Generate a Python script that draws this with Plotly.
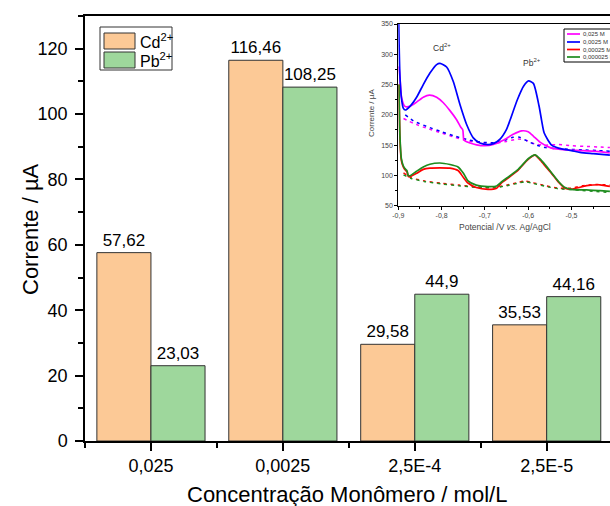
import plotly.graph_objects as go

# ---------------- data ----------------
categories = ["0,025", "0,0025", "2,5E-4", "2,5E-5"]
cd_values = [57.62, 116.46, 29.58, 35.53]
pb_values = [23.03, 108.25, 44.9, 44.16]
series_names = ["Cd<sup>2+</sup>", "Pb<sup>2+</sup>"]
y_ticks = [0, 20, 40, 60, 80, 100, 120]

inset_names = ["0,025 M", "0,0025 M", "0,00025 M", "0,000025 M"]
inset_x_ticks = [-0.9, -0.8, -0.7, -0.6, -0.5]
inset_x_ticklabels = ["-0,9", "-0,8", "-0,7", "-0,6", "-0,5"]
inset_y_ticks = [50, 100, 150, 200, 250, 300, 350]

# solid voltammograms
mag_x = [-0.8985, -0.8962, -0.8923, -0.8846, -0.8731, -0.8577, -0.8423, -0.8280, -0.8115, -0.7960,
         -0.7807, -0.7653, -0.7560, -0.7510, -0.7490, -0.7460, -0.7345, -0.7191, -0.7000, -0.6806,
         -0.6575, -0.6344, -0.6150, -0.6000, -0.5882, -0.5728, -0.5460, -0.5112, -0.4804, -0.4497, -0.4112]
mag_y = [280, 262, 228, 214, 214, 221, 229, 232.5, 229, 220,
         207, 192, 180, 175, 160, 157, 153.5, 150.5, 149, 151,
         158, 168, 173.6, 172, 165, 155, 145, 142, 141, 140, 137]

blu_x = [-0.8990, -0.8962, -0.8923, -0.8885, -0.8840, -0.8731, -0.8577, -0.8423, -0.8269, -0.8115,
         -0.8037, -0.7884, -0.7730, -0.7576, -0.7422, -0.7268, -0.7114, -0.6930, -0.6806, -0.6650,
         -0.6500, -0.6420, -0.6250, -0.6100, -0.5990, -0.5880, -0.5750, -0.5690, -0.5630, -0.5460,
         -0.5300, -0.5000, -0.4804, -0.4497, -0.4112]
blu_y = [350, 263, 225, 211, 208, 214, 229, 250, 269, 283,
         285, 279, 255, 217, 184, 162, 153.5, 151, 152.5, 160,
         176, 191, 225, 248, 256, 252, 215, 191, 170, 150,
         145, 141, 138, 136, 133.6]

red_x = [-0.8985, -0.8962, -0.8930, -0.8885, -0.8830, -0.8800, -0.8770, -0.8730, -0.8577, -0.8423,
         -0.8270, -0.8038, -0.7807, -0.7620, -0.7500, -0.7390, -0.7200, -0.6930, -0.6729, -0.6610,
         -0.6420, -0.6230, -0.6000, -0.5843, -0.5720, -0.5600, -0.5457, -0.5300, -0.5150, -0.4995,
         -0.4650, -0.4342, -0.4112]
red_y = [250, 160, 125, 114, 108, 106, 98.5, 98, 103.5, 110,
         112, 112.5, 112, 108, 97, 87.5, 80, 77, 79, 88,
         98, 108.8, 126.5, 133.5, 125, 115, 103, 89, 79, 77.5,
         83, 84.5, 82]

grn_x = red_x
grn_y = [250, 165, 128, 116, 110, 108, 100, 99.5, 107, 114,
         118.5, 120.5, 118, 114, 104, 91, 84, 81.5, 82.5, 89.6,
         99.5, 110, 127.5, 134, 127, 117, 104, 90, 80, 77,
         76, 75, 73.5]

# dotted baselines
blud_x = [-0.8840, -0.8650, -0.8350, -0.8000, -0.7700, -0.7400, -0.7100, -0.6800, -0.6550, -0.6350,
          -0.6200, -0.6000, -0.5800, -0.5600, -0.5300, -0.5000, -0.4700, -0.4400, -0.4112]
blud_y = [200, 190, 181, 172, 165, 159, 155, 154, 158, 163,
          163, 156, 150, 146, 144, 143, 142, 141, 140]

magd_x = [-0.8880, -0.8650, -0.8350, -0.8000, -0.7700, -0.7400, -0.7100, -0.6800, -0.6500, -0.6250,
          -0.6050, -0.5850, -0.5600, -0.5300, -0.5000, -0.4700, -0.4400, -0.4112]
magd_y = [194, 186, 178, 170, 163, 157, 154, 153, 156, 160,
          158, 152, 150, 151, 149, 148, 147, 146]

redd_x = [-0.8880, -0.8700, -0.8400, -0.8000, -0.7600, -0.7200, -0.6800, -0.6500, -0.6250, -0.6074,
          -0.5900, -0.5600, -0.5300, -0.5000, -0.4750, -0.4450, -0.4112]
redd_y = [104, 96, 91, 87, 84, 81, 80, 84, 88, 90.8,
          88, 83, 79, 79, 83, 85, 84]
grnd_x = redd_x
grnd_y = [101, 95, 90, 86, 83, 80.5, 79.5, 83, 87, 89.5,
          87, 82, 78, 76.5, 75, 73.5, 72]

# ---------------- geometry helpers ----------------
W, H = 610, 506
L, R, T, B = 85, 0, 16, 65
PW, PH = W - L - R, H - T - B


def px(x):
    return (x - L) / PW


def py(y):
    return (H - B - y) / PH


FONT = "Liberation Sans, Arial, sans-serif"
ORANGE = "#FCC996"
GREEN = "#9ED79C"
EDGE = "#333333"
INSET_COLORS = ["#FF00FF", "#0000FF", "#FF0000", "#1E8C1E"]


def fmt(v):
    return f"{v:g}".replace(".", ",")


xpos = list(range(len(categories)))

fig = go.Figure()
for name, vals, col in [(series_names[0], cd_values, ORANGE), (series_names[1], pb_values, GREEN)]:
    fig.add_trace(go.Bar(
        x=xpos, y=vals, name=name,
        marker=dict(color=col, line=dict(color=EDGE, width=1)),
        text=[fmt(v) for v in vals], textposition="outside",
        textfont=dict(size=17, color="black", family=FONT),
        constraintext="none", cliponaxis=False, showlegend=False,
    ))

solid = [(mag_x, mag_y), (blu_x, blu_y), (red_x, red_y), (grn_x, grn_y)]
dotted = [(magd_x, magd_y), (blud_x, blud_y), (redd_x, redd_y), (grnd_x, grnd_y)]
for i, (xs, ys) in enumerate(dotted):
    fig.add_trace(go.Scatter(x=xs, y=ys, mode="lines", xaxis="x2", yaxis="y2",
                             line=dict(color=INSET_COLORS[i], width=1.5, dash="3px,4px", shape="spline", smoothing=0.6),
                             showlegend=False, hoverinfo="skip"))
for i, (xs, ys) in enumerate(solid):
    fig.add_trace(go.Scatter(x=xs, y=ys, mode="lines", xaxis="x2", yaxis="y2", name=inset_names[i],
                             line=dict(color=INSET_COLORS[i], width=1.7, shape="spline", smoothing=0.6),
                             showlegend=False))

shapes = []
annotations = []

# main legend (drawn)
shapes.append(dict(type="rect", xref="paper", yref="paper", x0=px(100), x1=px(172), y0=py(27), y1=py(70),
                   line=dict(color=EDGE, width=1), fillcolor="white", layer="above"))
for k, (col, ytop) in enumerate([(ORANGE, 33), (GREEN, 52)]):
    shapes.append(dict(type="rect", xref="paper", yref="paper", x0=px(104), x1=px(135), y0=py(ytop), y1=py(ytop + 16),
                       line=dict(color=EDGE, width=1), fillcolor=col, layer="above"))
    annotations.append(dict(x=px(138), y=py(ytop + 8), xref="paper", yref="paper", text=series_names[k],
                            showarrow=False, xanchor="left", yanchor="middle",
                            font=dict(size=16, color="black", family=FONT)))

# inset legend (drawn)
shapes.append(dict(type="rect", xref="paper", yref="paper", x0=px(564), x1=px(616), y0=py(29), y1=py(62),
                   line=dict(color="black", width=1), fillcolor="white", layer="above"))
for k, yy in enumerate([34, 42, 49.5, 57]):
    shapes.append(dict(type="line", xref="paper", yref="paper", x0=px(567), x1=px(580), y0=py(yy), y1=py(yy),
                       line=dict(color=INSET_COLORS[k], width=1.7), layer="above"))
    annotations.append(dict(x=px(581), y=py(yy), xref="paper", yref="paper", text=inset_names[k],
                            showarrow=False, xanchor="left", yanchor="middle",
                            font=dict(size=6, color="#333", family=FONT)))

# titles
annotations.append(dict(x=px(347), y=py(494), xref="paper", yref="paper",
                        text="Concentração Monômero / mol/L", showarrow=False,
                        xanchor="center", yanchor="middle", font=dict(size=22, color="black", family=FONT)))
annotations.append(dict(x=px(30), y=py(229), xref="paper", yref="paper", text="Corrente / µA",
                        showarrow=False, textangle=-90, xanchor="center", yanchor="middle",
                        font=dict(size=22, color="black", family=FONT)))
annotations.append(dict(x=px(505), y=py(227), xref="paper", yref="paper",
                        text="Potencial /V <i>vs.</i> Ag/AgCl", showarrow=False,
                        xanchor="center", yanchor="middle", font=dict(size=8.5, color="#444", family=FONT)))
annotations.append(dict(x=px(371), y=py(113), xref="paper", yref="paper", text="Corrente / µA",
                        showarrow=False, textangle=-90, xanchor="center", yanchor="middle",
                        font=dict(size=8, color="#444", family=FONT)))
annotations.append(dict(x=px(442), y=py(47), xref="paper", yref="paper", text="Cd<sup>2+</sup>",
                        showarrow=False, xanchor="center", yanchor="middle",
                        font=dict(size=8.5, color="#333", family=FONT)))
annotations.append(dict(x=px(532), y=py(62), xref="paper", yref="paper", text="Pb<sup>2+</sup>",
                        showarrow=False, xanchor="center", yanchor="middle",
                        font=dict(size=8.5, color="#333", family=FONT)))

fig.update_layout(
    width=W, height=H,
    margin=dict(l=L, r=R, t=T, b=B, pad=0),
    paper_bgcolor="white", plot_bgcolor="white",
    font=dict(family=FONT, color="black"),
    barmode="group", bargap=0.18, bargroupgap=0,
    showlegend=False,
    shapes=shapes, annotations=annotations,
    xaxis=dict(range=[-0.5, 3.48], tickmode="array", tickvals=xpos, ticktext=categories,
               showline=True, linecolor="black", linewidth=1.5, mirror=True,
               ticks="outside", ticklen=8, tickwidth=1.5, tickcolor="black",
               tickfont=dict(size=18, color="black"), showgrid=False, zeroline=False,
               minor=dict(tickmode="linear", tick0=-0.5, dtick=1, ticks="outside", ticklen=5,
                          tickwidth=1.5, tickcolor="black")),
    yaxis=dict(range=[0, 130], tickmode="array", tickvals=y_ticks,
               showline=True, linecolor="black", linewidth=1.5,
               ticks="outside", ticklen=8, tickwidth=1.5, tickcolor="black",
               tickfont=dict(size=18, color="black"), showgrid=False, zeroline=False,
               ticklabelstandoff=4,
               minor=dict(tickmode="linear", tick0=0, dtick=10, ticks="outside", ticklen=5,
                          tickwidth=1.5, tickcolor="black")),
    xaxis2=dict(domain=[px(398.3), 1.0], anchor="y2", range=[-0.9, -0.411],
                tickmode="array", tickvals=inset_x_ticks, ticktext=inset_x_ticklabels,
                showline=True, linecolor="black", linewidth=1, mirror=True,
                ticks="outside", ticklen=3, tickwidth=1, tickcolor="black",
                tickfont=dict(size=7, color="#444"), showgrid=False, zeroline=False,
                minor=dict(tickmode="linear", tick0=-0.9, dtick=0.05, ticks="outside", ticklen=2,
                           tickwidth=1, tickcolor="black")),
    yaxis2=dict(domain=[py(205.7), py(24)], anchor="x2", range=[50, 350],
                tickmode="array", tickvals=inset_y_ticks,
                showline=True, linecolor="black", linewidth=1,
                ticks="outside", ticklen=3, tickwidth=1, tickcolor="black",
                tickfont=dict(size=7, color="#444"), showgrid=False, zeroline=False,
                minor=dict(tickmode="linear", tick0=50, dtick=25, ticks="outside", ticklen=2,
                           tickwidth=1, tickcolor="black")),
)

fig.write_html("out.html")
